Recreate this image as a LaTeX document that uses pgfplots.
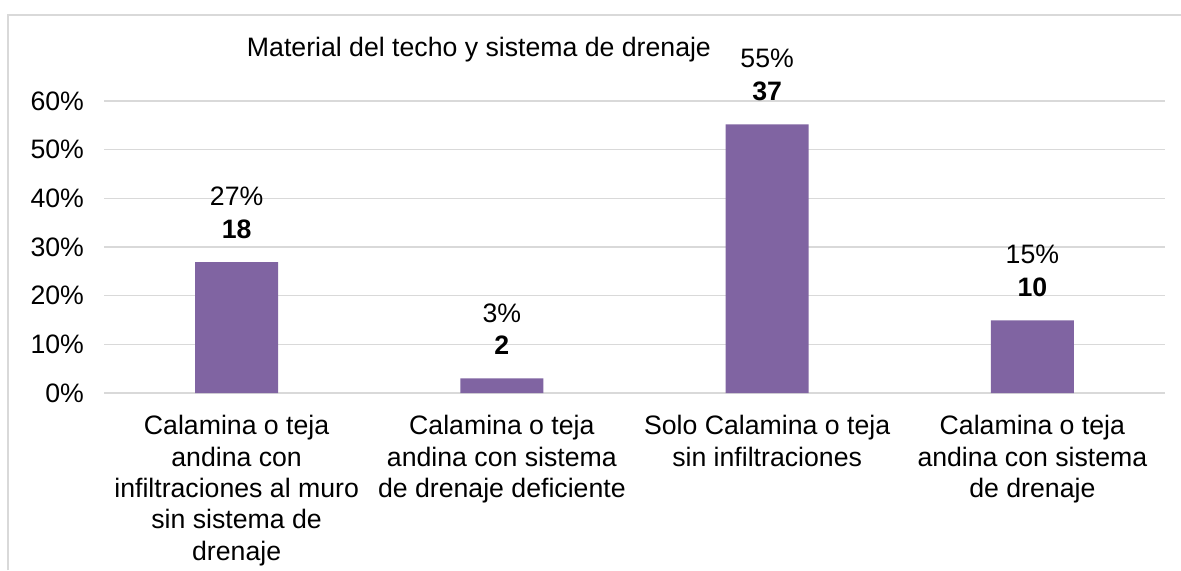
\documentclass[border=0pt]{standalone}
\usepackage{fontspec}
\setmainfont{Liberation Sans}
\usepackage{pgfplots}
\pgfplotsset{compat=1.18}
\definecolor{barpurple}{HTML}{8064A2}
\definecolor{gridgray}{HTML}{D9D9D9}
\newcommand{\chartfont}{\fontsize{12}{14.6}\selectfont}
\newcommand{\catfont}{\fontsize{12}{14.1}\selectfont}

\begin{document}
\begin{tikzpicture}
% page = 1181x570 px at 0.45pt per px, origin at the plot area's lower left
\useasboundingbox (-46.8pt,-79.65pt) rectangle (484.65pt,176.85pt);
\draw[gridgray, line width=0.9pt] (-43.2pt,-79.65pt) -- (-43.2pt,170.1pt) -- (484.65pt,170.1pt);
\begin{axis}[
  at={(0pt,0pt)}, anchor=south west,
  scale only axis,
  width=477.45pt, height=131.4pt,
  xmin=-0.5, xmax=3.5, ymin=0, ymax=60,
  axis line style={draw=none},
  tick style={draw=none},
  ybar, bar width=37.35pt,
  xtick=data,
  xticklabels={
    {Calamina o teja\\andina con\\infiltraciones al muro\\sin sistema de\\drenaje},
    {Calamina o teja\\andina con sistema\\de drenaje deficiente},
    {Solo Calamina o teja\\sin infiltraciones},
    {Calamina o teja\\andina con sistema\\de drenaje}},
  xticklabel style={align=center, font=\catfont, yshift=-2.4pt},
  ytick={0,10,20,30,40,50,60},
  yticklabels={0\%,10\%,20\%,30\%,40\%,50\%,60\%},
  yticklabel style={font=\chartfont, xshift=-5.5pt},
  ymajorgrids, grid style={gridgray, line width=0.7pt},
  clip=false,
  title={Material del techo y sistema de drenaje},
  title style={at={(axis description cs:0.3534,1.130)}, anchor=center, font=\chartfont},
  point meta=explicit symbolic,
  nodes near coords,
  every node near coord/.append style={font=\chartfont, align=center, inner sep=0pt, anchor=south, yshift=10.5pt},
]
\addplot[fill=barpurple, draw=none] coordinates {
  (0,26.87) [{27\%\\\textbf{18}}]
  (1,2.99)  [{3\%\\\textbf{2}}]
  (2,55.22) [{55\%\\\textbf{37}}]
  (3,14.93) [{15\%\\\textbf{10}}]
};
\end{axis}
\end{tikzpicture}
\end{document}
